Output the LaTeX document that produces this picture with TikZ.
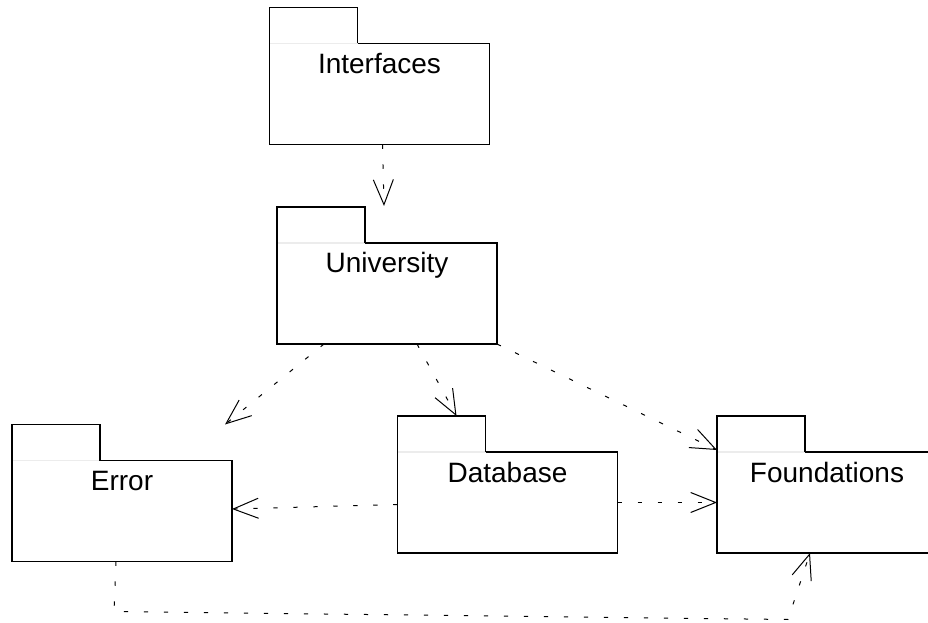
\documentclass[tikz,border=0pt]{standalone}
\usepackage{fontspec}
\setmainfont{Liberation Sans}
\usetikzlibrary{arrows.meta,calc}

% package outline: body with a tab on its upper left side
\newcommand\pkgoutline[1]{%
  \draw[gray!15, line width=0.85pt] (#1.north west) -- ($(#1.north west)+(88,0)$);
  \draw[line width=0.85pt] ($(#1.north west)+(88,0)$) -| (#1.south east) -| (#1.north west)
    -- ++(0,-36) -| ($(#1.north west)+(88,0)$);}

\begin{document}
\begin{tikzpicture}[x=0.75pt,y=-0.75pt,
  pkg/.style={minimum width=165pt, minimum height=75.75pt, inner sep=0pt, outer sep=0pt},
  pkglabel/.style={anchor=base, inner sep=0pt, font=\fontsize{21}{25}\selectfont},
  dep/.style={line width=0.75pt, dash pattern=on 3.2pt off 11.8pt, line join=round,
    -{Straight Barb[length=18.75pt, width=15pt, line width=0.75pt]}}]
\clip (0,0) rectangle (928,623);

% package bodies
\node[pkg] (int) at (379.5,94) {};
\node[pkg] (uni) at (387,293.5) {};
\node[pkg] (err) at (122,511) {};
\node[pkg] (db)  at (507.5,502.5) {};
\node[pkg] (fnd) at (827,502.5) {};

\pkgoutline{int}
\pkgoutline{uni}
\pkgoutline{err}
\pkgoutline{db}
\pkgoutline{fnd}

% package names
\node[pkglabel] (int-t) at ([yshift=-22.5pt]int.north) {Interfaces};
\node[pkglabel] (uni-t) at ([yshift=-22.5pt]uni.north) {University};
\node[pkglabel] (err-t) at ([yshift=-22.5pt]err.north) {Error};
\node[pkglabel] (db-t)  at ([yshift=-22.5pt]db.north)  {Database};
\node[pkglabel] (fnd-t) at ([yshift=-22.5pt]fnd.north) {Foundations};

% dependencies
\draw[dep] ($(int.south west)+(113,0)$) -- ($(uni.north west)+(107,-37)$);
\draw[dep] ($(uni.south west)+(47,0)$) -- ($(err.north west)+(213,-36)$);
\draw[dep] ($(uni.south west)+(140,0)$) -- ($(db.north west)+(59,-36)$);
\draw[dep] (uni.south east) -- ($(fnd.north west)+(0,-2)$);
\draw[dep] ($(db.west)+(0,2)$) -- ($(err.east)+(0,-2)$);
\draw[dep] (db.east) -- (fnd.west);
\draw[dep] ($(err.south west)+(104,0)$) -- ++(-2,50) -- ++(674,8) -- ($(fnd.south west)+(93,0)$);
\end{tikzpicture}
\end{document}
